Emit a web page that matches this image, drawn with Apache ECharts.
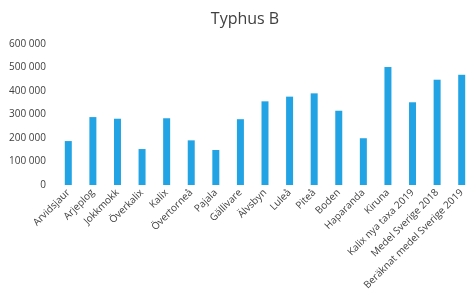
<!DOCTYPE html>
<html>
<head>
<meta charset="utf-8">
<script src="https://cdn.jsdelivr.net/npm/echarts@6/dist/echarts.min.js"></script>
<style>
  html, body { margin: 0; padding: 0; background: #fff; }
  #chart { width: 468px; height: 304px; }
</style>
</head>
<body>
<div id="chart"></div>
<script>
// kommuner och jämförelser
const categories = [
  'Arvidsjaur', 'Arjeplog', 'Jokkmokk', 'Överkalix', 'Kalix', 'Övertorneå',
  'Pajala', 'Gällivare', 'Älvsbyn', 'Luleå', 'Piteå', 'Boden', 'Haparanda',
  'Kiruna', 'Kalix nya taxa 2019', 'Medel Sverige 2018', 'Beräknat medel Sverige 2019'
]
const values = [
  187000, 289000, 282000, 153000, 284000, 190000,
  149000, 280000, 356000, 376000, 390000, 316000, 199000,
  502000, 352000, 448000, 469000
]
const yTicks = [0, 100000, 200000, 300000, 400000, 500000, 600000]

const font = 'Open Sans'
let myChart = echarts.init(document.getElementById('chart'))
myChart.setOption({
  animation: false,
  title: {
    text: 'Typhus B',
    left: 240,
    top: 6,
    textAlign: 'center',
    textStyle: { fontFamily: font, fontSize: 16, fontWeight: 'normal', color: '#404040' }
  },
  grid: { left: 56, top: 44, width: 418, bottom: 119, outerBoundsMode: 'none', containLabel: false },
  xAxis: {
    type: 'category',
    data: categories,
    axisLine: { show: false },
    axisTick: { show: false },
    axisLabel: {
      rotate: 45,
      interval: 0,
      margin: 6,
      fontFamily: font,
      fontSize: 10,
      color: '#404040'
    }
  },
  yAxis: {
    type: 'value',
    min: 0,
    max: yTicks[yTicks.length - 1],
    interval: 100000,
    splitLine: { show: false },
    axisLine: { show: false },
    axisTick: { show: false },
    axisLabel: {
      margin: 10,
      fontFamily: font,
      fontSize: 10,
      color: '#404040',
      formatter: v => String(v).replace(/\B(?=(\d{3})+(?!\d))/g, ' ')
    }
  },
  series: [{
    type: 'bar',
    data: values,
    barWidth: 7,
    itemStyle: { color: '#22a3e4' }
  }]
})
</script>
</body>
</html>
